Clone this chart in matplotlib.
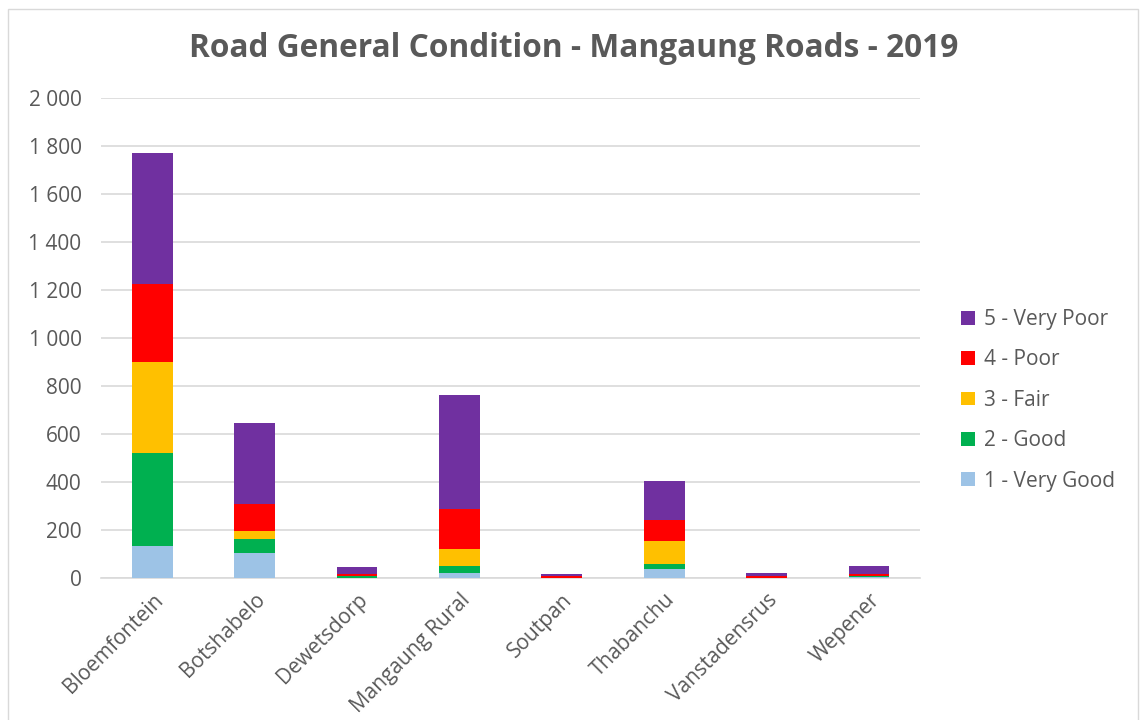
import numpy as np
import matplotlib

matplotlib.use("Agg")
import matplotlib.pyplot as plt
from matplotlib.patches import Patch, Rectangle
from matplotlib.ticker import FuncFormatter

plt.rcParams["font.family"] = ["Open Sans", "DejaVu Sans"]

TOWNS = ["Bloemfontein", "Botshabelo", "Dewetsdorp", "Mangaung Rural",
         "Soutpan", "Thabanchu", "Vanstadensrus", "Wepener"]

CONDITIONS = ["1 - Very Good", "2 - Good", "3 - Fair", "4 - Poor", "5 - Very Poor"]
COLORS = ["#9DC3E6", "#00B050", "#FFC000", "#FF0000", "#7030A0"]

VERY_GOOD = [135, 104, 2, 20, 0, 37, 0, 3]
GOOD = [385, 58, 6, 31, 0, 23, 0, 5]
FAIR = [379, 34, 3, 70, 0, 96, 2, 2]
POOR = [327, 111, 8, 169, 8, 88, 9, 7]
VERY_POOR = [545, 340, 27, 471, 9, 161, 10, 34]

SERIES = [VERY_GOOD, GOOD, FAIR, POOR, VERY_POOR]


def thousands(v, pos):
    return f"{int(v):,}".replace(",", " ")


fig = plt.figure(figsize=(11.41, 7.2), dpi=100)
ax = fig.add_axes([0.0885, 0.197, 0.718, 0.667])

x = np.arange(len(TOWNS))
bottom = np.zeros(len(TOWNS))
for vals, col in zip(SERIES, COLORS):
    ax.bar(x, vals, width=0.4, bottom=bottom, color=col, zorder=3)
    bottom += np.array(vals)

ax.set_xlim(-0.5, len(TOWNS) - 0.5)
ax.set_ylim(0, 2000)
ax.set_yticks(range(0, 2001, 200))
ax.yaxis.set_major_formatter(FuncFormatter(thousands))
ax.grid(axis="y", color="#D9D9D9", linewidth=1.2, zorder=0)
for s in ["top", "right", "left"]:
    ax.spines[s].set_visible(False)
ax.spines["bottom"].set_color("#D9D9D9")
ax.spines["bottom"].set_linewidth(1.2)
ax.tick_params(axis="both", length=0, labelsize=15, colors="#595959")
ax.tick_params(axis="y", pad=14)
ax.tick_params(axis="x", pad=8)
ax.set_xticks(x)
ax.set_xticklabels(TOWNS, rotation=45, ha="right", rotation_mode="anchor")

fig.text(0.503, 0.932, "Road General Condition - Mangaung Roads - 2019",
         ha="center", va="center", fontsize=22.8, fontweight="bold", color="#595959")

handles = [Patch(facecolor=c, label=l) for c, l in zip(COLORS, CONDITIONS)]
fig.legend(handles=handles[::-1], loc="center left", bbox_to_anchor=(0.826, 0.444),
           frameon=False, fontsize=15, labelcolor="#595959",
           handlelength=0.65, handleheight=0.65, labelspacing=0.93, handletextpad=0.45)

fig.patches.append(Rectangle((0.007, -0.01), 0.99, 0.998, transform=fig.transFigure,
                             fill=False, edgecolor="#D9D9D9", linewidth=1))

fig.savefig("out.png", dpi=100)
